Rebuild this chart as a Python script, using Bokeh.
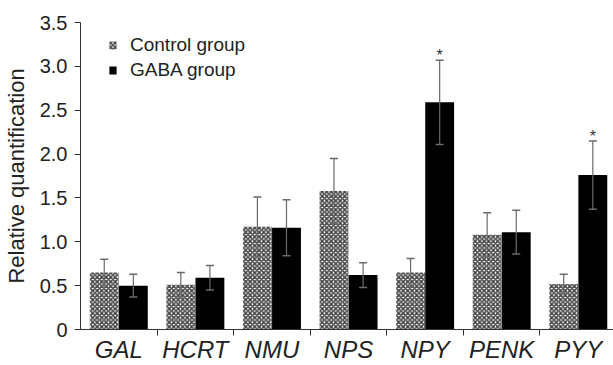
from bokeh.plotting import figure
from bokeh.models import (ColumnDataSource, Whisker, TeeHead, FixedTicker,
                          Range1d, Legend, LegendItem, NumeralTickFormatter)
from bokeh.core.properties import value
from bokeh.embed import file_html
from bokeh.resources import INLINE

genes = ["GAL", "HCRT", "NMU", "NPS", "NPY", "PENK", "PYY"]
control_mean = [0.65, 0.51, 1.17, 1.58, 0.65, 1.08, 0.52]
control_err = [0.15, 0.14, 0.34, 0.37, 0.16, 0.25, 0.11]
gaba_mean = [0.50, 0.59, 1.16, 0.62, 2.59, 1.11, 1.76]
gaba_err = [0.13, 0.14, 0.32, 0.14, 0.48, 0.25, 0.39]
significant = ["NPY", "PYY"]
y_ticks = [0, 0.5, 1.0, 1.5, 2.0, 2.5, 3.0, 3.5]

FONT = "Liberation Sans"
ERR = "#6a6a6a"
TXT = "#222222"

centers = [i + 0.5 for i in range(len(genes))]
bounds = list(range(1, len(genes)))
cx = [c - 0.19 for c in centers]
gx = [c + 0.19 for c in centers]

src_c = ColumnDataSource(dict(x=cx, top=control_mean,
                              upper=[m + e for m, e in zip(control_mean, control_err)],
                              lower=[m - e for m, e in zip(control_mean, control_err)]))
src_g = ColumnDataSource(dict(x=gx, top=gaba_mean,
                              upper=[m + e for m, e in zip(gaba_mean, gaba_err)],
                              lower=[m - e for m, e in zip(gaba_mean, gaba_err)]))

p = figure(width=613, height=365, output_backend="svg", toolbar_location=None,
           x_range=Range1d(0, 6.96), y_range=Range1d(0, 3.5),
           min_border_left=77, min_border_right=0, min_border_top=22, min_border_bottom=36)
p.outline_line_color = None
p.xgrid.visible = False
p.ygrid.visible = False

rc = p.vbar(x="x", top="top", width=0.377, source=src_c, fill_color="white",
            line_color=None, hatch_pattern="diagonal_cross", hatch_color="#444444",
            hatch_scale=4.5, hatch_weight=1.6)
rg = p.vbar(x="x", top="top", width=0.377, source=src_g, fill_color="black", line_color=None)

for src in (src_c, src_g):
    w = Whisker(source=src, base="x", upper="upper", lower="lower", dimension="height",
                line_color=ERR, line_width=1.2, level="overlay",
                upper_head=TeeHead(size=8, line_color=ERR, line_width=1.5),
                lower_head=TeeHead(size=8, line_color=ERR, line_width=1.5))
    p.add_layout(w)

# significance stars
sx = [gx[genes.index(g)] for g in significant]
sy = [gaba_mean[genes.index(g)] + gaba_err[genes.index(g)] for g in significant]
p.text(x=sx, y=sy, text=["*"] * len(sx), text_align="center", text_baseline="bottom",
       y_offset=4, text_font=value(FONT), text_font_size="16px", text_color="#333333")

# y axis
ya = p.yaxis[0]
ya.ticker = FixedTicker(ticks=y_ticks)
ya.formatter = NumeralTickFormatter(format="0.0")
ya.major_label_overrides = {0: "0"}
ya.minor_tick_line_color = None
ya.major_tick_out = 6
ya.major_tick_in = 0
ya.major_label_standoff = 7
ya.axis_label = "Relative quantification"
ya.axis_label_standoff = 8
ya.axis_label_text_font = FONT
ya.axis_label_text_font_style = "normal"
ya.axis_label_text_font_size = "22px"
ya.axis_label_text_color = TXT
ya.major_label_text_font = FONT
ya.major_label_text_font_size = "20px"
ya.major_label_text_color = TXT
ya.axis_line_color = "#333333"
ya.major_tick_line_color = "#333333"

# x axis: labels at group centres, tick marks at group boundaries
xa = p.xaxis[0]
xa.ticker = FixedTicker(ticks=centers, minor_ticks=bounds)
xa.major_label_overrides = {c: g for c, g in zip(centers, genes)}
xa.major_tick_line_color = None
xa.major_tick_out = 0
xa.major_tick_in = 0
xa.minor_tick_line_color = "#333333"
xa.minor_tick_out = 6
xa.minor_tick_in = 0
xa.major_label_standoff = 0
xa.major_label_text_font = FONT
xa.major_label_text_font_style = "italic"
xa.major_label_text_font_size = "24px"
xa.major_label_text_color = TXT
xa.axis_line_color = "#333333"

legend = Legend(items=[LegendItem(label="Control group", renderers=[rc]),
                       LegendItem(label="GABA group", renderers=[rg])],
                location=(28, 248))
legend.border_line_color = None
legend.background_fill_alpha = 0
legend.margin = 0
legend.padding = 0
legend.glyph_width = 9
legend.glyph_height = 10
legend.label_height = 20
legend.spacing = 3
legend.label_standoff = 13
legend.label_text_font = FONT
legend.label_text_font_size = "19px"
legend.label_text_color = TXT
p.add_layout(legend, "center")

open("out.html", "w").write(file_html(p, INLINE))
